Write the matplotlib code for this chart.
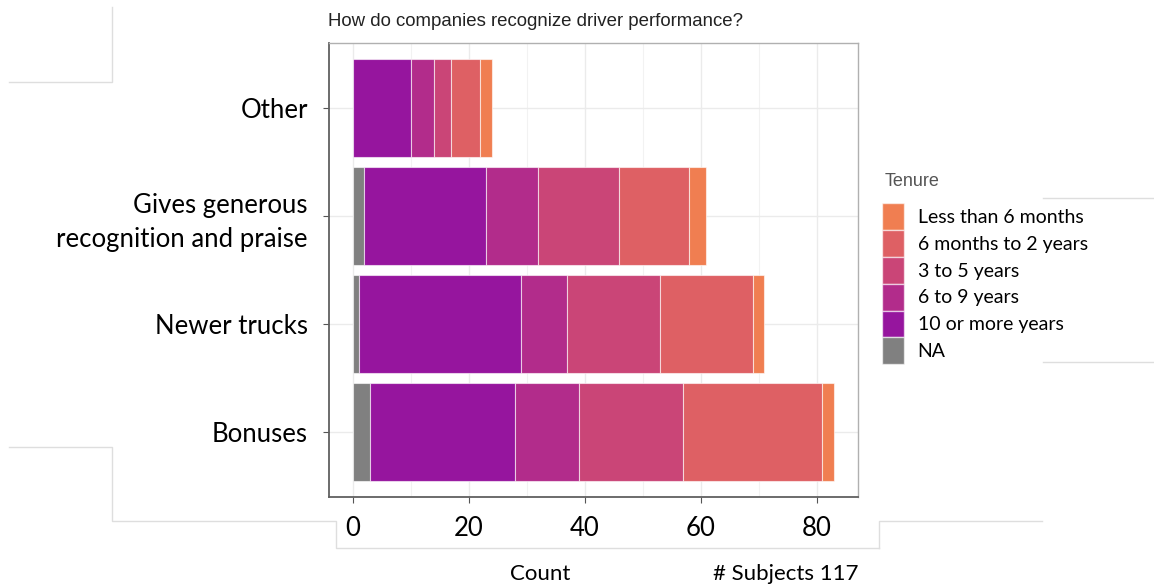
import matplotlib.pyplot as plt
from matplotlib.patches import Patch
from matplotlib.lines import Line2D
import numpy as np

# data, bottom-to-top category order
categories = ["Bonuses", "Newer trucks", "Gives generous\nrecognition and praise", "Other"]
tenure = ["NA", "10 or more years", "6 to 9 years", "3 to 5 years",
          "6 months to 2 years", "Less than 6 months"]
na = [3, 1, 2, 0]
ten_plus = [25, 28, 21, 10]
six_nine = [11, 8, 9, 4]
three_five = [18, 16, 14, 3]
six_m_two = [24, 16, 12, 5]
less_six = [2, 2, 3, 2]
x_ticks = [0, 20, 40, 60, 80]
n_subjects = 117

colors = ["#808080", "#96159e", "#b22c8b", "#ca4577", "#de6064", "#f07e51"]
series = [na, ten_plus, six_nine, three_five, six_m_two, less_six]

fig = plt.figure(figsize=(11.54, 5.88), dpi=100)
ax = fig.add_axes([0.2848, 0.1548, 0.4587, 0.772])

y = np.arange(1, len(categories) + 1)
left = np.zeros(len(categories))
for vals, col in zip(series, colors):
    ax.barh(y, vals, left=left, height=0.9, color=col,
            edgecolor=(1, 1, 1, 0.6), linewidth=0.8, zorder=3)
    left += np.array(vals)

xmax = left.max()
ax.set_xlim(-0.05 * xmax, xmax * 1.05)
ax.set_ylim(0.4, len(categories) + 0.6)

ax.set_xticks(x_ticks)
ax.set_xticks([10, 30, 50, 70], minor=True)
ax.set_yticks(y)
ax.set_yticklabels(categories, family="Lato", fontsize=18.5, ha="right",
                   multialignment="right", linespacing=1.45)
ax.set_xticklabels([str(t) for t in x_ticks], family="Lato", fontsize=18.5)
ax.grid(True, which="major", color="#ebebeb", lw=1, zorder=0)
ax.grid(True, which="minor", axis="x", color="#f2f2f2", lw=0.8, zorder=0)
ax.tick_params(axis="x", which="major", length=4, color="#555555", pad=10)
ax.tick_params(axis="x", which="minor", length=0)
ax.tick_params(axis="y", length=4, color="#555555", pad=11)

for side in ["left", "bottom"]:
    ax.spines[side].set_color("#606060")
    ax.spines[side].set_linewidth(1.3)
for side in ["top", "right"]:
    ax.spines[side].set_color("#b0b0b0")
    ax.spines[side].set_linewidth(1.0)

fig.text(328 / 1154, 1 - 22 / 588, "How do companies recognize driver performance?",
         family="Liberation Sans", fontsize=13.4, color="#222222", va="center", ha="left")

# legend
fig.text(885 / 1154, 1 - 181 / 588, "Tenure", family="Liberation Sans", fontsize=13,
         color="#555555", va="center", ha="left")
handles = [Patch(facecolor=c, edgecolor=(1, 1, 1, 0.6)) for c in colors][::-1]
fig.legend(handles, tenure[::-1], loc="upper left",
           bbox_to_anchor=(882 / 1154, 1 - 203 / 588), frameon=False,
           borderpad=0, borderaxespad=0,
           handlelength=1.15, handleheight=1.75, labelspacing=0,
           handletextpad=0.68, prop={"family": "Lato", "size": 14})

fig.text(540 / 1154, 1 - 574 / 588, "Count", family="Lato", fontsize=16,
         ha="center", va="center")
fig.text(786 / 1154, 1 - 574 / 588, "# Subjects %d" % n_subjects, family="Lato",
         fontsize=16, ha="center", va="center")

# faint frame lines left over from the slide
frame_lines = [
    [(9, 82), (112, 82), (112, 7)],
    [(9, 447), (112, 447), (112, 521), (336, 521), (336, 548), (879, 548)],
    [(879, 548), (879, 521), (1042, 521)],
    [(1043, 198), (1154, 198)],
    [(1043, 362), (1154, 362)],
]
for pts in frame_lines:
    xs = [p[0] / 1154 for p in pts]
    ys = [1 - p[1] / 588 for p in pts]
    fig.add_artist(Line2D(xs, ys, color="#dedede", lw=1))

fig.savefig("out.png", dpi=100)
